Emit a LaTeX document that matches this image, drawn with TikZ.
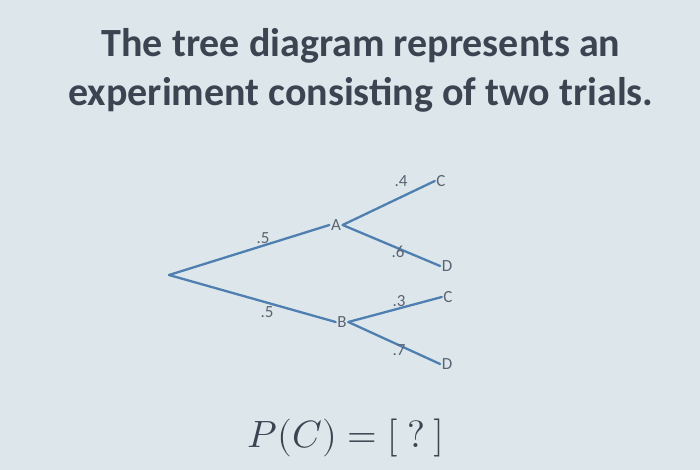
\documentclass[tikz,border=0pt]{standalone}
\usepackage{fontspec}
\setmainfont{Carlito}
\usepackage{unicode-math}
\setmathfont{Latin Modern Math}
\definecolor{bgc}{HTML}{DDE7EB}
\definecolor{titlec}{HTML}{3C4452}
\definecolor{linec}{HTML}{4F7FB0}
\definecolor{labc}{HTML}{5A6472}
\begin{document}
\begin{tikzpicture}[x=1pt,y=-1pt,
  lab/.style={font=\fontsize{17}{17}\selectfont, text=labc, inner sep=1pt},
  pnode/.style={font=\fontsize{17}{17}\selectfont, text=labc, inner sep=1.5pt},
  branch/.style={draw=linec, line width=2.3pt, line cap=round}]
\fill[bgc] (0,0) rectangle (700,470);
\useasboundingbox (0,0) rectangle (700,470);
\node[font=\bfseries\fontsize{40}{49}\selectfont, text=titlec, align=center] (title) at (361,70)
  {The tree diagram represents an\\experiment consisting of two trials.};
\coordinate (root) at (169,275);
\node[pnode] (A) at (336,225) {A};
\node[pnode] (B) at (342,322) {B};
\node[pnode] (C1) at (441,181) {C};
\node[pnode] (D1) at (447,266) {D};
\node[pnode] (C2) at (448,297) {C};
\node[pnode] (D2) at (447,364) {D};
\draw[branch] (root) -- (A.west);
\draw[branch] (root) -- (B.west);
\draw[branch] (A.east) -- (C1.west);
\draw[branch] (A.east) -- (D1.west);
\draw[branch] (B.east) -- (C2.west);
\draw[branch] (B.east) -- (D2.west);
\node[lab] (l1) at (263,238) {.5};
\node[lab] (l2) at (267,312) {.5};
\node[lab] (l3) at (401,181) {.4};
\node[lab] (l4) at (398,252) {.6};
\node[lab] (l5) at (399,301) {.3};
\node[lab] (l6) at (399,350) {.7};
\node[text=titlec, font=\fontsize{38}{38}\selectfont] (eq) at (346,438) {$P(C)=[\ ?\ ]$};
\end{tikzpicture}
\end{document}
